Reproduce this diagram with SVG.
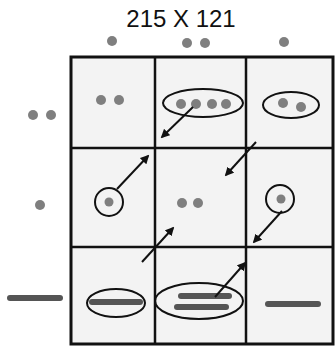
<svg xmlns="http://www.w3.org/2000/svg" width="335" height="350" viewBox="0 0 335 350">
<style>
.dot{fill:#7f7f7f}
.bar{stroke:#555;stroke-width:6;stroke-linecap:round}
.ring{fill:none;stroke:#111;stroke-width:2}
.grid{stroke:#111;stroke-width:2.5;fill:none}
.arr{stroke:#111;stroke-width:2;fill:none;marker-end:url(#ah)}
text{font-family:"Liberation Sans",Arial,sans-serif;fill:#111}
</style>
<defs>
<marker id="ah" viewBox="0 0 10 10" refX="8" refY="5" markerWidth="4.5" markerHeight="4.5" orient="auto" markerUnits="strokeWidth">
<path d="M0,0 L10,5 L0,10 Z" fill="#111"/>
</marker>
</defs>
<rect width="335" height="350" fill="#fff"/>
<text x="181" y="27" font-size="24" text-anchor="middle">215 X 121</text>
<g id="labels">
<circle class="dot" cx="112" cy="41" r="5"/>
<circle class="dot" cx="187" cy="43" r="5"/>
<circle class="dot" cx="205" cy="43" r="5"/>
<circle class="dot" cx="284" cy="42" r="5"/>
<circle class="dot" cx="33" cy="115" r="5"/>
<circle class="dot" cx="51" cy="115" r="5"/>
<circle class="dot" cx="40" cy="205" r="5"/>
<line class="bar" x1="10" y1="298" x2="60" y2="298"/>
</g>
<g id="grid">
<rect x="71" y="57" width="262" height="287" fill="#f3f3f3"/>
<line class="grid" x1="155" y1="57" x2="155" y2="344"/>
<line class="grid" x1="246" y1="57" x2="246" y2="344"/>
<line class="grid" x1="71" y1="148" x2="333" y2="148"/>
<line class="grid" x1="71" y1="247" x2="333" y2="247"/>
<rect x="71" y="57" width="262" height="287" fill="none" stroke="#111" stroke-width="3"/>
</g>
<g id="c11">
<circle class="dot" cx="101" cy="100" r="5"/>
<circle class="dot" cx="119" cy="100" r="5"/>
</g>
<g id="c12">
<ellipse class="ring" cx="203" cy="103" rx="40" ry="14"/>
<circle class="dot" cx="181" cy="104" r="5"/>
<circle class="dot" cx="196" cy="104" r="5"/>
<circle class="dot" cx="212" cy="104" r="5"/>
<circle class="dot" cx="226" cy="104" r="5"/>
</g>
<g id="c13">
<ellipse class="ring" cx="291" cy="105" rx="28" ry="13"/>
<circle class="dot" cx="283" cy="103" r="5"/>
<circle class="dot" cx="301" cy="107" r="5"/>
</g>
<g id="c21">
<circle class="ring" cx="109" cy="202" r="14"/>
<circle class="dot" cx="109" cy="202" r="4.5"/>
</g>
<g id="c22">
<circle class="dot" cx="182" cy="203" r="5"/>
<circle class="dot" cx="198" cy="203" r="5"/>
</g>
<g id="c23">
<circle class="ring" cx="280" cy="199" r="14"/>
<circle class="dot" cx="281" cy="199" r="4.5"/>
</g>
<g id="c31">
<ellipse class="ring" cx="116" cy="303" rx="29" ry="14"/>
<line class="bar" x1="92" y1="302" x2="140" y2="302"/>
</g>
<g id="c32">
<ellipse class="ring" cx="199" cy="301" rx="44" ry="18"/>
<line class="bar" x1="181" y1="296" x2="229" y2="296"/>
<line class="bar" x1="177" y1="307" x2="226" y2="307"/>
</g>
<g id="c33">
<line class="bar" x1="268" y1="304" x2="318" y2="304"/>
</g>
<g id="connectors">
<line class="arr" x1="193" y1="107" x2="162" y2="137"/>
<line class="arr" x1="117" y1="189" x2="148" y2="156"/>
<line class="arr" x1="256" y1="142" x2="226" y2="175"/>
<line class="arr" x1="282" y1="211" x2="254" y2="242"/>
<line class="arr" x1="142" y1="262" x2="173" y2="228"/>
<line class="arr" x1="215" y1="297" x2="245" y2="263"/>
</g>
</svg>
